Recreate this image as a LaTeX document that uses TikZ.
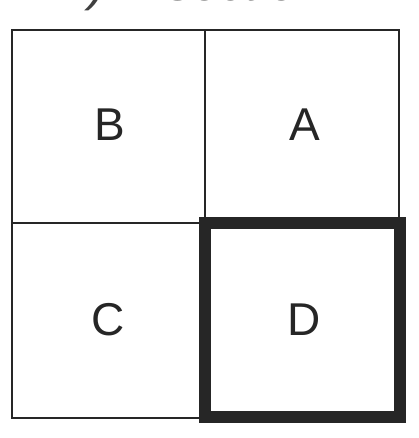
\documentclass[tikz,border=0pt]{standalone}
\usepackage{fontspec}
\setmainfont{Liberation Sans}
\begin{document}
\begin{tikzpicture}[x=1pt,y=-1pt,
  thin line/.style={line width=2.2pt,black!85},
  thick box/.style={line width=12pt,black!85,line join=miter},
  cell label/.style={font=\fontsize{46}{46}\selectfont,text=black!85}]
\useasboundingbox (0,0) rectangle (419,438);
\clip (0,0) rectangle (419,438);
\node[anchor=base west,font=\itshape\fontsize{50}{50}\selectfont,text=black!75] (title) at (58,1) {1) A section};
\draw[thin line] (12,30) rectangle (399,418);
\draw[thin line] (205,30) -- (205,418);
\draw[thin line] (12,223) -- (399,223);
\node[cell label] (B) at (110,125) {B};
\node[cell label] (A) at (305,125) {A};
\node[cell label] (C) at (108,320) {C};
\node[cell label] (D) at (304,320) {D};
\draw[thick box] (205,223) rectangle (400,417);
\end{tikzpicture}
\end{document}
